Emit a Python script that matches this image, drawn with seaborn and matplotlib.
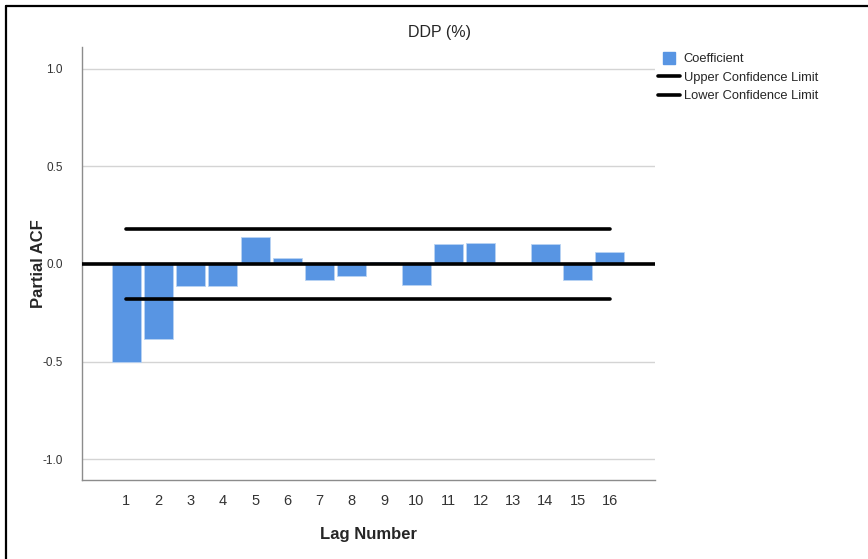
import matplotlib
matplotlib.use("Agg")
import matplotlib.pyplot as plt
from matplotlib.lines import Line2D
import seaborn as sns
import pandas as pd
import numpy as np

lags = [str(i) for i in range(1, 17)]
coefficients = [-0.502, -0.383, -0.112, -0.112, 0.137, 0.030, -0.081, -0.064,
                0.011, -0.105, 0.103, 0.108, 0.002, 0.100, -0.081, 0.060]
upper_limit = [0.179] * 16
lower_limit = [-0.179] * 16
y_ticks = [-1.0, -0.5, 0.0, 0.5, 1.0]
y_tick_labels = ["-1.0", "-0.5", "0.0", "0.5", "1.0"]

sns.set_theme(style="white")
plt.rcParams["font.family"] = ["Liberation Sans", "DejaVu Sans"]

df = pd.DataFrame({"Lag": lags, "Coefficient": coefficients,
                   "Upper": upper_limit, "Lower": lower_limit})

fig = plt.figure(figsize=(8.68, 5.59), dpi=100)
ax = fig.add_axes([82 / 868, 1 - 480 / 559, (655 - 82) / 868, (480 - 47) / 559])

bar_color = "#5895e3"
sns.barplot(data=df, x="Lag", y="Coefficient", color=bar_color, saturation=1,
            width=0.9, ax=ax, edgecolor="#b9d3f3", linewidth=0.6, zorder=3)

xpos = np.arange(len(lags))
sns.lineplot(x=xpos, y=df["Upper"], color="black", linewidth=2.6, ax=ax, zorder=4)
sns.lineplot(x=xpos, y=df["Lower"], color="black", linewidth=2.6, ax=ax, zorder=4)
ax.axhline(0, color="black", linewidth=2.6, zorder=5)

ax.set_ylim(-1.105, 1.11)
ax.set_xlim(-1.37, 16.4)
ax.set_yticks(y_ticks)
ax.set_yticklabels(y_tick_labels)
for t in [-1.0, -0.5, 0.5, 1.0]:
    ax.axhline(t, color="#d4d4d4", linewidth=1.0, zorder=0)

for s in ["top", "right"]:
    ax.spines[s].set_visible(False)
for s in ["left", "bottom"]:
    ax.spines[s].set_color("#8c8c8c")
    ax.spines[s].set_linewidth(1.0)

ax.tick_params(axis="y", length=0, pad=14, labelsize=8.5, labelcolor="#333333")
ax.tick_params(axis="x", length=0, pad=10, labelsize=10.5, labelcolor="#333333")
ax.set_xlabel("Lag Number", fontsize=12, fontweight="bold", labelpad=14)
ax.set_ylabel("Partial ACF", fontsize=12, fontweight="bold", labelpad=-3)

fig.text(440 / 868, 1 - 33 / 559, "DDP (%)", ha="center", va="center", fontsize=11.5)

handles = [
    Line2D([], [], marker="s", linestyle="none", markersize=9,
           markerfacecolor=bar_color, markeredgecolor=bar_color),
    Line2D([], [], color="black", linewidth=2.6),
    Line2D([], [], color="black", linewidth=2.6),
]
labels = ["Coefficient", "Upper Confidence Limit", "Lower Confidence Limit"]
fig.legend(handles, labels, loc="upper left", bbox_to_anchor=(658 / 868, 1 - 53 / 559),
           frameon=False, fontsize=9.3, handlelength=1.7, handletextpad=0.3,
           labelspacing=0.5, borderaxespad=0, borderpad=0)

fig.add_artist(Line2D([5.5 / 868, 1], [1 - 5.5 / 559, 1 - 5.5 / 559],
                      transform=fig.transFigure, color="black", linewidth=1.6))
fig.add_artist(Line2D([5.5 / 868, 5.5 / 868], [0, 1 - 5.5 / 559],
                      transform=fig.transFigure, color="black", linewidth=1.6))

fig.savefig("out.png", dpi=100)
